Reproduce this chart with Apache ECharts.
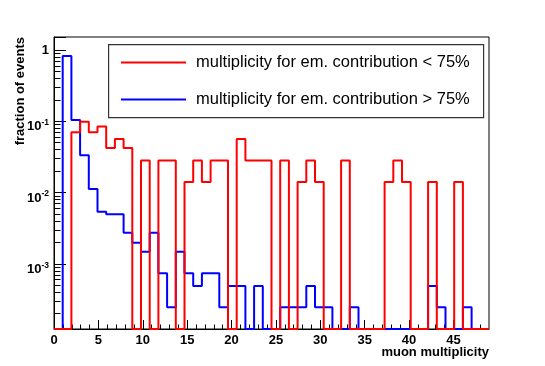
<!DOCTYPE html>
<html>
<head>
<meta charset="utf-8">
<script src="https://cdn.jsdelivr.net/npm/echarts@6/dist/echarts.min.js"></script>
<style>
  html, body { margin: 0; padding: 0; background: #fff; }
  #chart { width: 545px; height: 366px; }
</style>
</head>
<body>
<div id="chart"></div>
<script>
// 50 bins between 0 and 49 (bin width 0.98)
var xMax = 49;
var nBins = 50;

// fraction of events per bin, em. contribution < 75%
var redFrac = [
  0, 0, 0.0704, 0.0986, 0.0704, 0.0845, 0.0423, 0.0563, 0.0423, 0,
  0.0282, 0, 0.0282, 0.0282, 0, 0.0141, 0.0282, 0.0141, 0.0282, 0.0282,
  0, 0.0563, 0.0282, 0.0282, 0.0282, 0, 0.0282, 0, 0.0141, 0.0282,
  0.0141, 0, 0, 0.0282, 0, 0, 0, 0, 0.0141, 0.0282,
  0.0141, 0, 0, 0.0141, 0, 0, 0.0141, 0, 0, 0
];
// fraction of events per bin, em. contribution > 75%
var blueFrac = [
  0, 0.82, 0.104, 0.0333, 0.0112, 0.0054, 0.00496, 0.00496, 0.00274, 0.00197,
  0.00148, 0.00274, 0.00074, 0.000246, 0.00148, 0.00074, 0.00049, 0.00074, 0.00074, 0.000246,
  0.00049, 0.00049, 0, 0.00049, 0, 0, 0.000246, 0.000246, 0.000246, 0.00049,
  0.000246, 0.000246, 0, 0, 0.000246, 0, 0, 0, 0, 0,
  0, 0, 0, 0.00049, 0.000246, 0, 0, 0.000246, 0, 0
];

var seriesNames = [
  'multiplicity for em. contribution < 75%',
  'multiplicity for em. contribution > 75%'
];

var xMajorTicks = [0, 5, 10, 15, 20, 25, 30, 35, 40, 45];
var xMinorTicks = [];
for (var i = 1; i < xMax; i++) { if (i % 5 !== 0) xMinorTicks.push(i); }

var yMin = 1.22e-4, yMax = 1.52;
// minor ticks 2..9 x 10^n (log10 positions for the helper axis)
var yMinorTicks = [];
[-4, -3, -2, -1].forEach(function (p) {
  for (var k = 2; k <= 9; k++) {
    var v = k * Math.pow(10, p);
    if (v > yMin && v < yMax) yMinorTicks.push(Math.log10(v));
  }
});

var font = '"Liberation Sans", Arial, Helvetica, sans-serif';

// histogram outline: one point per bin low edge plus the last high edge
function steps(frac) {
  var w = xMax / nBins;
  var pts = frac.map(function (v, i) { return [i * w, v > 0 ? v : yMin]; });
  pts.push([xMax, pts[pts.length - 1][1]]);
  return pts;
}

var hiddenLine = { show: true, onZero: false, lineStyle: { color: 'rgba(0,0,0,0)', width: 0 } };

var chart = echarts.init(document.getElementById('chart'));
chart.setOption({
  animation: false,
  backgroundColor: '#fff',
  grid: { left: 54, right: 56, top: 37, bottom: 37, show: true, borderColor: '#000', borderWidth: 1 },
  xAxis: [{
    type: 'value', min: 0, max: xMax, position: 'bottom',
    axisLine: { onZero: false, lineStyle: { color: '#000', width: 1 } },
    axisTick: { show: true, inside: true, length: 9, customValues: xMajorTicks, lineStyle: { color: '#000' } },
    axisLabel: { customValues: xMajorTicks, color: '#000', fontWeight: 'bold', fontSize: 13, fontFamily: font, margin: 5 },
    splitLine: { show: false }
  }, {
    type: 'value', min: 0, max: xMax, position: 'bottom', offset: 0,
    axisLine: hiddenLine,
    axisTick: { show: true, inside: true, length: 4.5, customValues: xMinorTicks, lineStyle: { color: '#000' } },
    axisLabel: { show: false },
    splitLine: { show: false }
  }],
  yAxis: [{
    type: 'log', logBase: 10, min: yMin, max: yMax,
    axisLine: { onZero: false, lineStyle: { color: '#000', width: 1 } },
    axisTick: { show: true, inside: true, length: 12, lineStyle: { color: '#000' } },
    axisLabel: {
      margin: 5,
      formatter: function (v) {
        var e = Math.log10(v), n = Math.round(e);
        if (Math.abs(e - n) > 1e-6) return '';
        if (n === 0) return '{o|1}';
        return '{b|10}{s|' + n + '}';
      },
      rich: {
        o: { fontSize: 13, fontWeight: 'bold', fontFamily: font, color: '#000' },
        b: { fontSize: 13, fontWeight: 'bold', fontFamily: font, color: '#000', lineHeight: 14, padding: [6, 0, 0, 0], verticalAlign: 'top' },
        s: { fontSize: 8.5, fontWeight: 'bold', fontFamily: font, color: '#000', lineHeight: 8, padding: [4, 0, 0, 0], verticalAlign: 'top' }
      }
    },
    splitLine: { show: false }
  }, {
    type: 'value', min: Math.log10(yMin), max: Math.log10(yMax), position: 'left', offset: 0,
    axisLine: hiddenLine,
    axisTick: { show: true, inside: true, length: 6.5, customValues: yMinorTicks, lineStyle: { color: '#000' } },
    axisLabel: { show: false },
    splitLine: { show: false }
  }],
  legend: {
    orient: 'vertical', left: 121, top: 54, padding: 0, z: 20,
    itemWidth: 65, itemHeight: 2, itemGap: 20, icon: 'rect',
    textStyle: { fontSize: 16.5, fontFamily: font, color: '#000', lineHeight: 17, padding: [0, 0, 0, 5] },
    data: [seriesNames[0], seriesNames[1]]
  },
  graphic: [
    { type: 'rect', left: 108, top: 44, shape: { width: 375, height: 73 }, style: { fill: '#fff', stroke: '#333', lineWidth: 1.2 }, z: 5 },
    { type: 'text', right: 56, top: 346, style: { text: 'muon multiplicity', font: 'bold 13px ' + font, fill: '#000' } },
    { type: 'text', x: 20, y: 37, rotation: Math.PI / 2, style: { text: 'fraction of events', font: 'bold 13px ' + font, fill: '#000', align: 'right', verticalAlign: 'middle' } }
  ],
  series: [{
    name: seriesNames[1], type: 'line', step: 'end', showSymbol: false, symbol: 'none',
    xAxisIndex: 0, yAxisIndex: 0, data: steps(blueFrac),
    lineStyle: { color: '#0000ff', width: 2 }, itemStyle: { color: '#0000ff' }, z: 2
  }, {
    name: seriesNames[0], type: 'line', step: 'end', showSymbol: false, symbol: 'none',
    xAxisIndex: 0, yAxisIndex: 0, data: steps(redFrac),
    lineStyle: { color: '#ff0000', width: 2 }, itemStyle: { color: '#ff0000' }, z: 3
  }]
});
</script>
</body>
</html>
